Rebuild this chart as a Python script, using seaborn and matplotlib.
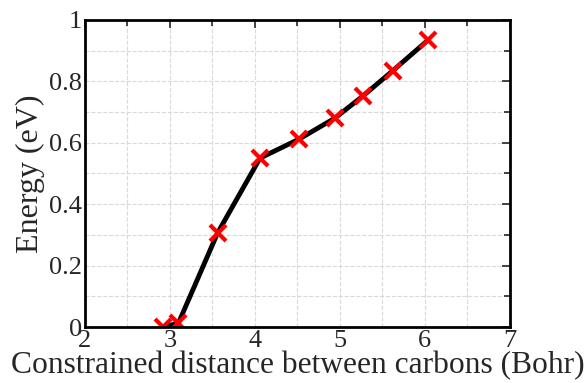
import numpy as np
import pandas as pd
import matplotlib
matplotlib.use("Agg")
import matplotlib.pyplot as plt
import seaborn as sns
from matplotlib.ticker import MultipleLocator

distance = [2.92, 3.10, 3.56, 4.06, 4.52, 4.94, 5.27, 5.62, 6.04]
energy = [0.0, 0.013, 0.306, 0.55, 0.612, 0.68, 0.752, 0.834, 0.935]

df = pd.DataFrame({"distance": distance, "energy": energy})

sns.set_style("white")
plt.rcParams["font.family"] = ["Liberation Serif", "DejaVu Serif"]

fig, ax = plt.subplots(figsize=(5.86, 3.83), dpi=100)

sns.lineplot(data=df, x="distance", y="energy", color="black", linewidth=3.5,
             marker="x", markersize=11, markeredgewidth=3,
             markeredgecolor="red", markerfacecolor="red", ax=ax)

ax.set_xlim(2, 7)
ax.set_ylim(0, 1)
ax.xaxis.set_major_locator(MultipleLocator(1))
ax.xaxis.set_minor_locator(MultipleLocator(0.5))
ax.yaxis.set_minor_locator(MultipleLocator(0.1))
ax.set_yticks([0, 0.2, 0.4, 0.6, 0.8, 1])
ax.set_yticklabels(["0", "0.2", "0.4", "0.6", "0.8", "1"])

ax.grid(True, which="both", linestyle="--", color="#d9d9d9", linewidth=0.8)
ax.tick_params(which="both", direction="in", top=True, right=True,
               labelsize=19, width=1.2, pad=2)
ax.tick_params(which="major", length=6)
ax.tick_params(which="minor", length=4)
for s in ax.spines.values():
    s.set_linewidth(2)
    s.set_color("black")

ax.set_xlabel("Constrained distance between carbons (Bohr)", fontsize=22.7, labelpad=-1)
ax.set_ylabel("Energy (eV)", fontsize=23, labelpad=3)

fig.subplots_adjust(left=0.145, right=0.87, top=0.948, bottom=0.146)
fig.savefig("out.png", dpi=100)
